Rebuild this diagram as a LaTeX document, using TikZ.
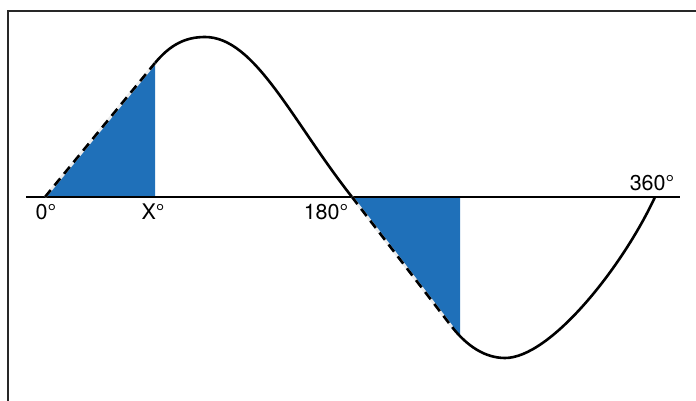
\documentclass[tikz,border=0pt]{standalone}
\usepackage{fontspec}
\setmainfont{TeX Gyre Heros}
\definecolor{fillblue}{RGB}{31,112,185}
\definecolor{framegray}{RGB}{40,40,40}
\begin{document}
\begin{tikzpicture}[x=1pt,y=-1pt,
  lbl/.style={font=\fontsize{21.5}{23}\selectfont, inner sep=0pt},
  curve/.style={line width=2.6pt, black, line join=round},
  dashpart/.style={line width=2.6pt, black, dash pattern=on 9pt off 6pt},
  whitepart/.style={line width=2.6pt, white!85!gray}]
\useasboundingbox (0,0) rectangle (696,401);
% frame
\draw[framegray, line width=1.6pt] (8,401) -- (8,11) -- (696,11);
% key points
\coordinate (z0) at (45,197);
\coordinate (xt) at (155,63);
\coordinate (xb) at (155,197);
\coordinate (pk) at (205,37);
\coordinate (z180) at (352,197);
\coordinate (dl) at (452,327);
\coordinate (tr) at (505,358);
\coordinate (z360) at (655,197);
\coordinate (ax0) at (26,197);
\coordinate (ax1) at (680,197);
% fills
\fill[fillblue] (z0) -- (xt) -- (xb) -- cycle;
\fill[fillblue] (z180) -- (dl) .. controls (455,331) and (458,334) .. (460,336) -- (460,197) -- cycle;
% axis
\draw[line width=1.8pt] (ax0) -- (ax1);
% curve
\draw[curve] (xt) .. controls (170,45) and (185,37) .. (pk)
  .. controls (255,37) and (292,121) .. (z180);
\draw[curve] (dl) .. controls (467,346) and (485,358) .. (tr)
  .. controls (550,358) and (622,268) .. (z360);
% dashed straight parts
\draw[whitepart] (z0) -- (xt);
\draw[dashpart] (z0) -- (xt);
\draw[whitepart] (z180) -- (dl);
\draw[dashpart] (z180) -- (dl);
% labels
\node[lbl, anchor=north] (l0) at (46,204) {0°};
\node[lbl, anchor=north] (lx) at (153,204) {X°};
\node[lbl, anchor=north] (l180) at (326,204) {180°};
\node[lbl, anchor=south] (l360) at (652,191) {360°};
\end{tikzpicture}
\end{document}
